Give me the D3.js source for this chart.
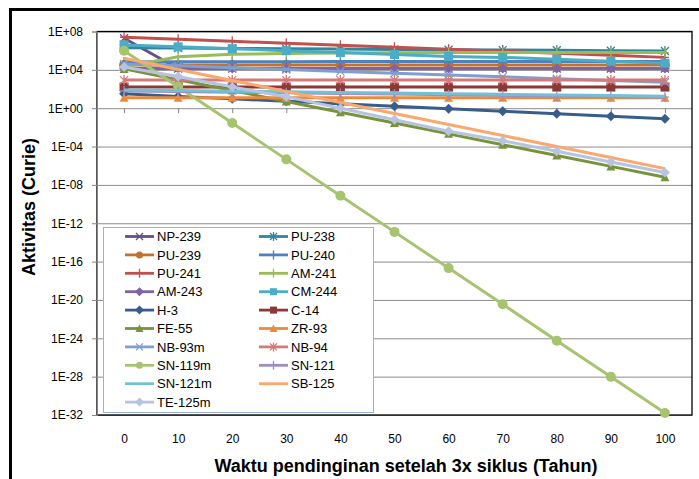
<!DOCTYPE html>
<html>
<head>
<meta charset="utf-8">
<script src="https://cdn.jsdelivr.net/npm/d3@7"></script>
<style>
	body { margin: 0; background: #fff; }
	text { font-family: "Liberation Sans", Arial, sans-serif; fill: #000; }
</style>
</head>
<body>
<div id="chart"></div>
<script>
// cooling time after 3 cycles (years)
const years = [0, 10, 20, 30, 40, 50, 60, 70, 80, 90, 100];

// activity (Curie)
const np239 = [2.0e7, 1.4e4, 1.4e4, 1.4e4, 1.4e4, 1.4e4, 1.4e4, 1.4e4, 1.4e4, 1.4e4, 1.4e4];
const pu238 = [2.0e6, 1.85e6, 1.7e6, 1.6e6, 1.5e6, 1.35e6, 1.25e6, 1.15e6, 1.1e6, 1.0e6, 9.3e5];
const pu239 = [3.2e4, 3.2e4, 3.2e4, 3.2e4, 3.2e4, 3.2e4, 3.2e4, 3.2e4, 3.2e4, 3.2e4, 3.2e4];
const pu240 = [6.5e4, 6.8e4, 7.0e4, 7.2e4, 7.3e4, 7.4e4, 7.5e4, 7.5e4, 7.6e4, 7.6e4, 7.6e4];
const pu241 = [2.5e7, 1.55e7, 9.6e6, 5.9e6, 3.6e6, 2.3e6, 1.4e6, 8.6e5, 5.3e5, 3.3e5, 2.0e5];
const am241 = [2.0e4, 2.3e5, 4.2e5, 5.2e5, 5.8e5, 6.1e5, 6.3e5, 6.4e5, 6.4e5, 6.4e5, 6.3e5];
const am243 = [1.4e4, 1.4e4, 1.4e4, 1.4e4, 1.4e4, 1.4e4, 1.4e4, 1.4e4, 1.4e4, 1.4e4, 1.4e4];
const cm244 = [4.0e6, 2.5e6, 1.6e6, 1.0e6, 6.3e5, 4.0e5, 2.5e5, 2.0e5, 1.26e5, 7.9e4, 5.0e4];
const h3 = [32, 17, 9.5, 5.2, 2.9, 1.6, 0.87, 0.48, 0.26, 0.145, 0.08];
const c14 = [160, 160, 160, 160, 160, 160, 160, 160, 160, 160, 160];
const fe55 = [1.26e4, 930, 69, 5.1, 0.38, 0.028, 2.1e-3, 1.55e-4, 1.15e-5, 8.5e-7, 6.3e-8];
const zr93 = [12.6, 12.6, 12.6, 12.6, 12.6, 12.6, 12.6, 12.6, 12.6, 12.6, 12.6];
const nb93m = [4.0e4, 2.6e4, 1.66e4, 1.07e4, 6.9e3, 4.5e3, 2.9e3, 1.86e3, 1.2e3, 780, 500];
const nb94 = [850, 850, 850, 850, 850, 850, 850, 850, 850, 850, 850];
const sn119m = [1.0e6, 170, 2.8e-2, 4.6e-6, 7.6e-10, 1.26e-13, 2.1e-17, 3.5e-21, 5.7e-25, 9.5e-29, 1.6e-32];
const sn121 = [63, 54, 47, 41, 35, 30, 26, 22, 19, 17, 14];
const sn121m = [80, 69, 59, 51, 44, 38, 32, 28, 24, 21, 18];
const sb125 = [1.6e5, 1.1e4, 790, 56, 4.0, 0.28, 0.02, 1.4e-3, 1.0e-4, 7.1e-6, 5.0e-7];
const te125m = [2.0e4, 2.0e3, 160, 16, 1.0, 0.063, 4.0e-3, 4.0e-4, 3.2e-5, 2.5e-6, 2.0e-7];

const seriesNames = ['NP-239', 'PU-238', 'PU-239', 'PU-240', 'PU-241', 'AM-241', 'AM-243', 'CM-244', 'H-3', 'C-14',
	'FE-55', 'ZR-93', 'NB-93m', 'NB-94', 'SN-119m', 'SN-121', 'SN-121m', 'SB-125', 'TE-125m'];
const seriesValues = [np239, pu238, pu239, pu240, pu241, am241, am243, cm244, h3, c14,
	fe55, zr93, nb93m, nb94, sn119m, sn121, sn121m, sb125, te125m];
const seriesColors = ['#674f8a', '#31859c', '#c5702f', '#4f81bd', '#c0504d', '#9bbb59', '#8064a2', '#4bacc6', '#385d8a', '#8c3836',
	'#77933c', '#ec8a3c', '#7e9fd0', '#d47a78', '#a6c370', '#9f8dc0', '#73bfd6', '#f9a86e', '#b7c3df'];
const seriesMarkers = ['x', 'star', 'circle', 'plus', 'plus', 'plus', 'diamond', 'square', 'diamond', 'square',
	'triangle', 'triangle', 'x', 'star', 'circle', 'plus', 'none', 'none', 'diamond'];

const yTickExps = [8, 4, 0, -4, -8, -12, -16, -20, -24, -28, -32];

const width = 699, height = 479;
const plot = { left: 97, right: 692, top: 31.5, bottom: 415 };

const svg = d3.select('#chart')
	.append('svg')
	.attr('width', width)
	.attr('height', height);

// outer chart frame (runs off the right and bottom edges)
svg.append('rect')
	.attr('x', 10.5).attr('y', 9.5)
	.attr('width', 800).attr('height', 600)
	.attr('fill', '#fff')
	.attr('stroke', '#000')
	.attr('stroke-width', 3);

const x = d3.scalePoint()
	.domain(years)
	.range([plot.left, plot.right])
	.padding(0.5);

const y = d3.scaleLog()
	.domain([1e-32, 1e8])
	.range([plot.bottom, plot.top]);

const yTicks = yTickExps.map(e => Math.pow(10, e));
const fmt = v => {
	const e = Math.round(Math.log10(v));
	return '1E' + (e < 0 ? '-' : '+') + String(Math.abs(e)).padStart(2, '0');
};

// gridlines
svg.append('g')
	.attr('transform', `translate(${plot.left},0)`)
	.call(d3.axisLeft(y).tickValues(yTicks).tickSize(-(plot.right - plot.left)).tickFormat(''))
	.call(g => g.select('.domain').remove())
	.call(g => g.selectAll('line').attr('stroke', '#8c8c8c'));

// plot area border
svg.append('rect')
	.attr('x', plot.left).attr('y', plot.top)
	.attr('width', plot.right - plot.left).attr('height', plot.bottom - plot.top)
	.attr('fill', 'none')
	.attr('stroke', '#000')
	.attr('stroke-width', 1.3);

// y axis
svg.append('g')
	.attr('transform', `translate(${plot.left},0)`)
	.call(d3.axisLeft(y).tickValues(yTicks).tickSize(5).tickPadding(9).tickFormat(fmt))
	.call(g => g.select('.domain').attr('stroke', '#868686'))
	.call(g => g.selectAll('line').attr('stroke', '#868686'))
	.call(g => g.selectAll('text').style('font-size', '12px').attr('fill', '#000'));

// category axis crosses at 1E+00
svg.append('g')
	.attr('transform', `translate(0,${y(1)})`)
	.call(d3.axisBottom(x).tickSize(5).tickFormat(''))
	.call(g => g.select('.domain').remove())
	.call(g => g.selectAll('line').attr('stroke', '#868686'));

// category labels at the bottom
svg.append('g')
	.attr('transform', `translate(0,${plot.bottom})`)
	.call(d3.axisBottom(x).tickSize(0).tickPadding(19))
	.call(g => g.select('.domain').remove())
	.call(g => g.selectAll('text').style('font-size', '12px').attr('fill', '#000'));

// axis titles
svg.append('text')
	.attr('transform', `translate(35,207) rotate(-90)`)
	.attr('text-anchor', 'middle')
	.style('font-size', '18px')
	.style('font-weight', 'bold')
	.text('Aktivitas (Curie)');

svg.append('text')
	.attr('x', 406)
	.attr('y', 472)
	.attr('text-anchor', 'middle')
	.style('font-size', '18px')
	.style('font-weight', 'bold')
	.text('Waktu pendinginan setelah 3x siklus (Tahun)');

function drawMarker(g, type, color, s) {
	const h = s / 2;
	if (type === 'none') return;
	if (type === 'circle') {
		g.append('circle').attr('r', h).attr('fill', color);
	} else if (type === 'square') {
		g.append('rect').attr('x', -h).attr('y', -h).attr('width', s).attr('height', s).attr('fill', color);
	} else if (type === 'diamond') {
		g.append('path').attr('d', `M0,${-h - 1}L${h + 1},0L0,${h + 1}L${-h - 1},0Z`).attr('fill', color);
	} else if (type === 'triangle') {
		g.append('path').attr('d', `M0,${-h - 0.5}L${h + 0.5},${h}L${-h - 0.5},${h}Z`).attr('fill', color);
	} else {
		let d = '';
		if (type === 'x' || type === 'star') d += `M${-h},${-h}L${h},${h}M${-h},${h}L${h},${-h}`;
		if (type === 'star' || type === 'plus') d += `M0,${-h - 1}L0,${h + 1}`;
		if (type === 'plus') d += `M${-h},0L${h},0`;
		g.append('path').attr('d', d).attr('fill', 'none').attr('stroke', color).attr('stroke-width', 1.3);
	}
}

const series = seriesNames.map((name, i) => ({
	name,
	color: seriesColors[i],
	marker: seriesMarkers[i],
	values: seriesValues[i].map((v, j) => ({ year: years[j], value: v }))
}));

svg.append('clipPath').attr('id', 'clip')
	.append('rect')
	.attr('x', plot.left - 6).attr('y', plot.top - 6)
	.attr('width', plot.right - plot.left + 12).attr('height', plot.bottom - plot.top + 12);

const line = d3.line()
	.x(d => x(d.year))
	.y(d => y(d.value));

const chart = svg.append('g').attr('clip-path', 'url(#clip)');

series.forEach(s => {
	const sg = chart.append('g').attr('class', 'series');
	sg.append('path')
		.datum(s.values)
		.attr('d', line)
		.attr('fill', 'none')
		.attr('stroke', s.color)
		.attr('stroke-width', 3)
		.attr('stroke-linejoin', 'round');
	s.values.forEach(d => {
		const mg = sg.append('g').attr('transform', `translate(${x(d.year)},${y(d.value)})`);
		const size = s.marker === 'circle' ? 10 : (s.marker === 'square' ? 9 : 8);
		drawMarker(mg, s.marker, s.color, size);
	});
});

// legend
const legend = svg.append('g');
legend.append('rect')
	.attr('x', 103.5).attr('y', 227.5)
	.attr('width', 270).attr('height', 185)
	.attr('fill', '#fff')
	.attr('stroke', '#95b3d7');

series.forEach((s, i) => {
	const col = i % 2, row = Math.floor(i / 2);
	const lx = col === 0 ? 125 : 259;
	const ly = 236.5 + row * 18.4;
	const lg = legend.append('g');
	lg.append('line')
		.attr('x1', lx).attr('x2', lx + 29)
		.attr('y1', ly).attr('y2', ly)
		.attr('stroke', s.color)
		.attr('stroke-width', 2.8);
	const mg = lg.append('g').attr('transform', `translate(${lx + 14.5},${ly})`);
	drawMarker(mg, s.marker, s.color, 7);
	lg.append('text')
		.attr('x', lx + 32)
		.attr('y', ly)
		.attr('dy', '0.36em')
		.style('font-size', '13px')
		.text(s.name);
});
</script>
</body>
</html>
